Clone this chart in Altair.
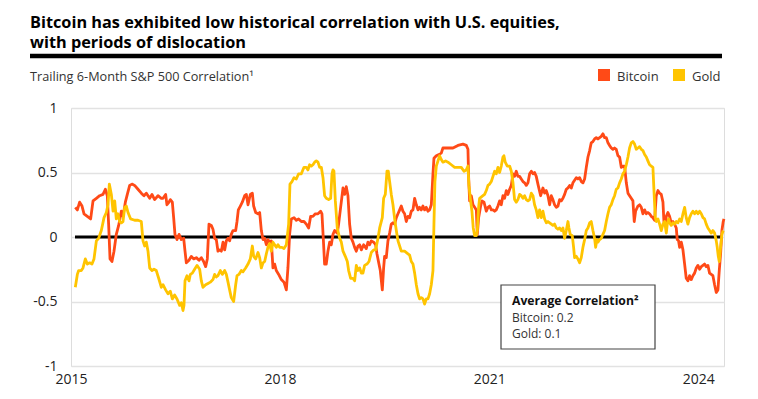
import altair as alt
import pandas as pd

# ---------------- data ----------------
btc_year = [
    2015.062, 2015.091, 2015.124, 2015.158, 2015.187, 2015.234, 2015.282, 2015.316, 2015.364, 2015.411,
    2015.459, 2015.493, 2015.521, 2015.540, 2015.560, 2015.588, 2015.617, 2015.650, 2015.684, 2015.722,
    2015.746, 2015.780, 2015.808, 2015.842, 2015.875, 2015.913, 2015.961, 2016.009, 2016.047, 2016.081,
    2016.129, 2016.162, 2016.200, 2016.248, 2016.296,
    2016.320, 2016.358, 2016.377, 2016.406, 2016.425, 2016.454, 2016.473, 2016.492, 2016.521, 2016.550,
    2016.583, 2016.617, 2016.636, 2016.655, 2016.693, 2016.727, 2016.760, 2016.798, 2016.837, 2016.870,
    2016.903, 2016.932, 2016.956, 2016.980, 2017.013, 2017.037, 2017.061, 2017.085, 2017.109, 2017.133,
    2017.157, 2017.181, 2017.205, 2017.229, 2017.253, 2017.276, 2017.300, 2017.324, 2017.363, 2017.382,
    2017.401, 2017.430, 2017.458, 2017.492, 2017.516, 2017.540, 2017.573, 2017.602, 2017.621, 2017.650,
    2017.683, 2017.707, 2017.731, 2017.755, 2017.779, 2017.803, 2017.826, 2017.850, 2017.874, 2017.898,
    2017.922, 2017.946, 2017.980, 2018.018, 2018.056, 2018.090, 2018.113, 2018.137, 2018.161, 2018.200,
    2018.233, 2018.266, 2018.305, 2018.343, 2018.376, 2018.410, 2018.439, 2018.472, 2018.506, 2018.544,
    2018.582, 2018.601, 2018.620, 2018.639, 2018.663, 2018.687, 2018.711, 2018.735, 2018.759, 2018.783,
    2018.821, 2018.840, 2018.869, 2018.903, 2018.926, 2018.950, 2018.974, 2018.998, 2019.022,
    2019.046, 2019.070, 2019.094, 2019.118, 2019.142, 2019.166, 2019.199, 2019.237, 2019.261, 2019.285,
    2019.309, 2019.343, 2019.371, 2019.390, 2019.419, 2019.438, 2019.467, 2019.486, 2019.500, 2019.524,
    2019.548, 2019.572, 2019.596, 2019.620, 2019.644, 2019.668, 2019.692, 2019.716, 2019.739, 2019.763,
    2019.787, 2019.811, 2019.835, 2019.859, 2019.883, 2019.907, 2019.931, 2019.955, 2019.979, 2020.002,
    2020.026, 2020.050, 2020.074, 2020.098, 2020.122, 2020.146, 2020.170, 2020.194, 2020.208, 2020.242,
    2020.280, 2020.313, 2020.337, 2020.375,
    2020.409, 2020.481, 2020.552, 2020.624, 2020.672, 2020.696, 2020.706, 2020.720, 2020.744, 2020.768,
    2020.792, 2020.816, 2020.830, 2020.849, 2020.878, 2020.897, 2020.926, 2020.959, 2020.983, 2021.007,
    2021.031, 2021.055, 2021.079, 2021.102, 2021.126, 2021.150, 2021.174, 2021.198, 2021.222, 2021.246,
    2021.270, 2021.294, 2021.318, 2021.342, 2021.365, 2021.389, 2021.413, 2021.437, 2021.461, 2021.485,
    2021.509, 2021.533, 2021.557, 2021.581, 2021.605, 2021.629, 2021.652, 2021.676, 2021.700, 2021.739,
    2021.772, 2021.796, 2021.820, 2021.844, 2021.868, 2021.892, 2021.915, 2021.939, 2021.963, 2021.987,
    2022.011, 2022.035, 2022.059, 2022.083, 2022.107, 2022.131, 2022.155, 2022.179, 2022.202, 2022.226,
    2022.250, 2022.274, 2022.298, 2022.322, 2022.346, 2022.370, 2022.394, 2022.418, 2022.442, 2022.465,
    2022.489, 2022.513, 2022.537, 2022.561, 2022.585, 2022.609, 2022.633, 2022.657, 2022.681, 2022.705,
    2022.728, 2022.752, 2022.776, 2022.800, 2022.824, 2022.848, 2022.872, 2022.896, 2022.920, 2022.944,
    2022.968, 2022.992, 2023.015, 2023.039, 2023.063, 2023.082, 2023.101,
    2023.135, 2023.159, 2023.183, 2023.207, 2023.231, 2023.255, 2023.278, 2023.302, 2023.326, 2023.350,
    2023.374, 2023.398, 2023.422, 2023.446, 2023.470, 2023.494, 2023.508, 2023.527, 2023.542, 2023.565,
    2023.589, 2023.613, 2023.637, 2023.661, 2023.685, 2023.699, 2023.718, 2023.733, 2023.757, 2023.781,
    2023.805, 2023.828, 2023.852, 2023.876, 2023.900, 2023.924, 2023.948, 2023.972, 2023.996, 2024.020,
    2024.044, 2024.068, 2024.091, 2024.115, 2024.139, 2024.163, 2024.187, 2024.211, 2024.235, 2024.259,
    2024.283, 2024.302, 2024.321, 2024.340, 2024.359, 2024.369,
]
btc_corr = [
    0.23, 0.21, 0.27, 0.24, 0.18, 0.16, 0.14, 0.28, 0.30, 0.32,
    0.33, 0.37, 0.32, 0.10, -0.17, -0.19, -0.11, 0.02, 0.09, 0.20,
    0.16, 0.27, 0.33, 0.40, 0.41, 0.40, 0.37, 0.34, 0.32, 0.34,
    0.30, 0.33, 0.29, 0.32, 0.30,
    0.30, 0.33, 0.25, 0.27, 0.29, 0.27, 0.15, 0.02, -0.02, 0.02,
    -0.02, -0.01, -0.11, -0.20, -0.18, -0.15, -0.17, -0.16, -0.18, -0.16,
    -0.19, -0.23, -0.17, 0.10, 0.09, 0.06, -0.01, -0.02, -0.11, -0.10,
    -0.11, -0.04, -0.10, -0.03, -0.01, -0.03, 0.02, 0.05, 0.05, 0.12,
    0.21, 0.24, 0.27, 0.32, 0.33, 0.25, 0.33, 0.34, 0.24, 0.19,
    0.18, 0.19, 0.05, -0.02, -0.01, -0.06, -0.02, -0.04, -0.03, -0.24,
    -0.21, -0.26, -0.29, -0.33, -0.35, -0.41, -0.24, 0.02, 0.14, 0.15,
    0.13, 0.14, 0.12, 0.12, 0.10, 0.07, 0.16, 0.16, 0.18, 0.18,
    0.20, 0.18, -0.01, -0.21, -0.21, -0.11, -0.04, -0.06, 0.02, 0.05,
    0.03, 0.10, 0.23, 0.38, 0.33, 0.39, 0.32, 0.10, -0.01,
    -0.04, -0.08, -0.11, -0.07, -0.06, -0.10, -0.06, -0.09, -0.04, -0.06,
    -0.03, -0.04, -0.06, -0.13, -0.21, -0.26, -0.41, -0.24, -0.15, -0.16,
    -0.03, 0.03, 0.10, 0.11, 0.10, 0.15, 0.18, 0.21, 0.24, 0.20,
    0.18, 0.12, 0.16, 0.15, 0.20, 0.21, 0.30, 0.25, 0.21, 0.23,
    0.21, 0.24, 0.21, 0.23, 0.20, 0.21, 0.25, 0.49, 0.61, 0.63,
    0.64, 0.65, 0.69, 0.69,
    0.69, 0.69, 0.71, 0.72, 0.71, 0.68, 0.46, 0.28, 0.32, 0.25,
    0.23, 0.21, 0.02, 0.15, 0.24, 0.28, 0.27, 0.20, 0.23, 0.24,
    0.21, 0.21, 0.20, 0.21, 0.24, 0.28, 0.25, 0.32, 0.30, 0.36,
    0.33, 0.37, 0.40, 0.49, 0.47, 0.51, 0.47, 0.47, 0.45, 0.43,
    0.42, 0.40, 0.42, 0.49, 0.51, 0.49, 0.50, 0.47, 0.41, 0.32,
    0.38, 0.34, 0.36, 0.32, 0.25, 0.32, 0.29, 0.25, 0.23, 0.24,
    0.29, 0.28, 0.30, 0.33, 0.37, 0.38, 0.40, 0.38, 0.42, 0.44,
    0.46, 0.45, 0.46, 0.43, 0.42, 0.45, 0.54, 0.62, 0.67, 0.73,
    0.74, 0.76, 0.77, 0.76, 0.77, 0.78, 0.80, 0.77, 0.77, 0.73,
    0.71, 0.69, 0.68, 0.69, 0.68, 0.63, 0.62, 0.54, 0.55, 0.55,
    0.42, 0.34, 0.32, 0.30, 0.28, 0.12, 0.20,
    0.24, 0.25, 0.23, 0.18, 0.21, 0.18, 0.19, 0.18, 0.16, 0.15,
    0.13, 0.32, 0.36, 0.34, 0.33, 0.27, 0.12, 0.10, 0.16, 0.19,
    0.16, 0.11, 0.12, 0.10, 0.07, -0.02, -0.03, -0.08, -0.04, -0.10,
    -0.21, -0.32, -0.34, -0.30, -0.33, -0.30, -0.28, -0.24, -0.22, -0.25,
    -0.23, -0.22, -0.21, -0.23, -0.22, -0.28, -0.29, -0.30, -0.37, -0.43,
    -0.41, -0.26, -0.13, 0.05, 0.12, 0.14,
]

gold_year = [
    2015.062, 2015.091, 2015.110, 2015.148, 2015.172, 2015.206, 2015.234, 2015.268, 2015.301, 2015.330,
    2015.364, 2015.397, 2015.435, 2015.474, 2015.507, 2015.531, 2015.550, 2015.579, 2015.603, 2015.627,
    2015.650, 2015.674, 2015.698, 2015.722, 2015.746, 2015.770, 2015.794, 2015.818, 2015.856, 2015.913,
    2015.961, 2016.009, 2016.033, 2016.057, 2016.081, 2016.105, 2016.129, 2016.162, 2016.191, 2016.224,
    2016.258, 2016.296,
    2016.320, 2016.358, 2016.392, 2016.425, 2016.454, 2016.487, 2016.521, 2016.559, 2016.583, 2016.607,
    2016.621, 2016.636, 2016.664, 2016.693, 2016.712, 2016.741, 2016.774, 2016.808, 2016.846, 2016.870,
    2016.894, 2016.932, 2016.966, 2016.999, 2017.037, 2017.061, 2017.085, 2017.109, 2017.143, 2017.171,
    2017.205, 2017.229, 2017.253, 2017.276, 2017.300, 2017.334, 2017.363, 2017.382, 2017.410, 2017.444,
    2017.468, 2017.506, 2017.540, 2017.573, 2017.602, 2017.621, 2017.650,
    2017.683, 2017.707, 2017.731, 2017.755, 2017.779, 2017.803, 2017.826, 2017.850, 2017.874, 2017.898,
    2017.922, 2017.946, 2017.970, 2017.994, 2018.027, 2018.056, 2018.090, 2018.123, 2018.142, 2018.171,
    2018.200, 2018.233, 2018.266, 2018.305, 2018.343, 2018.376, 2018.400, 2018.424, 2018.448, 2018.472,
    2018.496, 2018.520, 2018.544, 2018.568, 2018.592, 2018.616, 2018.639, 2018.663, 2018.697, 2018.726,
    2018.745, 2018.759, 2018.773, 2018.793, 2018.821, 2018.855, 2018.879, 2018.903, 2018.936, 2018.965,
    2018.984, 2019.013,
    2019.046, 2019.070, 2019.094, 2019.118, 2019.142, 2019.166, 2019.189, 2019.213, 2019.247, 2019.276,
    2019.309, 2019.343, 2019.371, 2019.405, 2019.429, 2019.467, 2019.486, 2019.510, 2019.534, 2019.553,
    2019.572, 2019.596, 2019.620, 2019.644, 2019.668, 2019.692, 2019.716, 2019.739, 2019.787, 2019.835,
    2019.859, 2019.883, 2019.907, 2019.931, 2019.955, 2019.979, 2020.002, 2020.026, 2020.050, 2020.074,
    2020.098, 2020.122, 2020.146, 2020.170, 2020.194, 2020.208, 2020.222, 2020.242, 2020.266, 2020.289,
    2020.313, 2020.337, 2020.375,
    2020.409, 2020.457, 2020.505, 2020.552, 2020.600, 2020.639, 2020.672, 2020.696, 2020.710, 2020.734,
    2020.753, 2020.772, 2020.792, 2020.816, 2020.830, 2020.849, 2020.863, 2020.911, 2020.935, 2020.959,
    2020.983, 2021.007, 2021.031, 2021.055, 2021.079, 2021.102, 2021.126, 2021.150, 2021.174, 2021.198,
    2021.212, 2021.231, 2021.260, 2021.294, 2021.318, 2021.342, 2021.365, 2021.389, 2021.413, 2021.437,
    2021.461, 2021.485, 2021.509, 2021.533, 2021.557, 2021.581, 2021.605, 2021.629, 2021.652, 2021.676,
    2021.700, 2021.724, 2021.748,
    2021.772, 2021.796, 2021.820, 2021.844, 2021.868, 2021.892, 2021.915, 2021.939, 2021.963, 2021.987,
    2022.011, 2022.035, 2022.059, 2022.083, 2022.107, 2022.131, 2022.145, 2022.164, 2022.193, 2022.212,
    2022.226, 2022.250, 2022.274, 2022.298, 2022.322, 2022.346, 2022.370, 2022.394, 2022.418, 2022.442,
    2022.465, 2022.489, 2022.513, 2022.528, 2022.547, 2022.561, 2022.585, 2022.609, 2022.633, 2022.657,
    2022.681, 2022.705, 2022.728, 2022.752, 2022.776, 2022.800, 2022.824, 2022.848, 2022.872, 2022.896,
    2022.920, 2022.944, 2022.968, 2022.992, 2023.015, 2023.039, 2023.063, 2023.087, 2023.111,
    2023.135, 2023.159, 2023.183, 2023.207, 2023.231, 2023.255, 2023.278, 2023.302, 2023.326, 2023.350,
    2023.365, 2023.384, 2023.398, 2023.422, 2023.446, 2023.470, 2023.494, 2023.518, 2023.542, 2023.556,
    2023.575, 2023.589, 2023.613, 2023.637, 2023.661, 2023.685, 2023.709, 2023.733, 2023.757, 2023.781,
    2023.805, 2023.828, 2023.852, 2023.876, 2023.900, 2023.924, 2023.948, 2023.972, 2023.996, 2024.020,
    2024.044, 2024.068, 2024.091, 2024.115, 2024.139, 2024.163, 2024.187, 2024.211, 2024.235, 2024.259,
    2024.273, 2024.288, 2024.302, 2024.321, 2024.340, 2024.359,
]
gold_corr = [
    -0.39, -0.29, -0.26, -0.26, -0.24, -0.17, -0.21, -0.20, -0.21, -0.17,
    -0.03, -0.01, 0.05, 0.15, 0.19, 0.25, 0.41, 0.33, 0.20, 0.28,
    0.14, 0.18, 0.12, 0.11, 0.12, 0.23, 0.24, 0.19, 0.14, 0.13,
    0.13, 0.12, -0.03, -0.07, -0.04, -0.11, -0.24, -0.26, -0.25, -0.26,
    -0.32, -0.39,
    -0.37, -0.41, -0.44, -0.42, -0.48, -0.45, -0.48, -0.53, -0.51, -0.57,
    -0.53, -0.34, -0.30, -0.34, -0.29, -0.28, -0.25, -0.22, -0.25, -0.34,
    -0.39, -0.37, -0.36, -0.35, -0.33, -0.29, -0.31, -0.30, -0.26, -0.29,
    -0.26, -0.29, -0.35, -0.41, -0.47, -0.50, -0.37, -0.30, -0.29, -0.26,
    -0.27, -0.24, -0.21, -0.17, -0.07, -0.15, -0.17,
    -0.12, -0.16, -0.24, -0.20, -0.19, -0.13, -0.08, -0.05, -0.11, -0.04,
    -0.06, -0.08, -0.06, -0.08, -0.08, -0.09, -0.06, 0.10, 0.41, 0.43,
    0.46, 0.45, 0.49, 0.49, 0.54, 0.54, 0.52, 0.56, 0.55, 0.56,
    0.58, 0.59, 0.58, 0.54, 0.54, 0.46, 0.32, 0.30, 0.29, 0.30,
    0.49, 0.52, 0.51, 0.28, 0.07, -0.01, -0.04, -0.11, -0.15, -0.19,
    -0.26, -0.32,
    -0.32, -0.34, -0.22, -0.26, -0.24, -0.28, -0.28, -0.22, -0.21, -0.19,
    -0.12, -0.10, -0.10, -0.01, 0.07, 0.15, 0.30, 0.33, 0.51, 0.51,
    0.43, 0.33, 0.25, 0.14, 0.05, -0.03, -0.07, -0.11, -0.11, -0.13,
    -0.14, -0.19, -0.21, -0.28, -0.37, -0.44, -0.48, -0.47, -0.48, -0.52,
    -0.48, -0.48, -0.44, -0.37, -0.26, 0.10, 0.43, 0.55, 0.59, 0.63,
    0.60, 0.58, 0.59,
    0.58, 0.56, 0.54, 0.54, 0.54, 0.51, 0.52, 0.55, 0.40, 0.28,
    0.20, 0.07, 0.01, 0.01, 0.05, 0.23, 0.30, 0.32, 0.33, 0.36,
    0.40, 0.41, 0.43, 0.47, 0.51, 0.49, 0.54, 0.50, 0.55, 0.62,
    0.63, 0.58, 0.55, 0.55, 0.51, 0.42, 0.29, 0.27, 0.29, 0.33,
    0.32, 0.30, 0.32, 0.29, 0.28, 0.29, 0.34, 0.32, 0.25, 0.21,
    0.15, 0.21, 0.15,
    0.20, 0.14, 0.11, 0.12, 0.11, 0.10, 0.09, 0.10, 0.07, 0.06,
    0.07, 0.05, 0.07, -0.01, 0.05, 0.12, 0.07, 0.02, 0.01, -0.08,
    -0.16, -0.15, -0.17, -0.20, -0.16, -0.08, -0.02, 0.05, 0.07, 0.11,
    0.12, 0.05, -0.01, -0.08, -0.02, -0.04, -0.02, -0.01, 0.02, 0.05,
    0.12, 0.18, 0.23, 0.25, 0.29, 0.32, 0.37, 0.38, 0.42, 0.45,
    0.49, 0.51, 0.56, 0.62, 0.69, 0.73, 0.74, 0.72, 0.68,
    0.69, 0.70, 0.68, 0.67, 0.64, 0.62, 0.59, 0.56, 0.55, 0.54,
    0.36, 0.15, 0.12, 0.14, 0.10, 0.05, 0.10, 0.12, 0.03, 0.10,
    0.14, 0.11, 0.09, 0.11, 0.10, 0.12, 0.11, 0.14, 0.12, 0.18,
    0.23, 0.15, 0.10, 0.15, 0.18, 0.20, 0.18, 0.20, 0.18, 0.20,
    0.18, 0.15, 0.14, 0.10, 0.07, 0.05, 0.03, 0.05, 0.03, -0.03,
    -0.08, -0.15, -0.19, -0.08, 0.02, 0.05,
]

series_names = ["Bitcoin", "Gold"]
series_colors = ["#ff4a17", "#ffc400"]
x_ticks = [2015, 2018, 2021, 2024]
y_ticks = [-1, -0.5, 0, 0.5, 1]

title_text = ("Bitcoin has exhibited low historical correlation with U.S. equities,\n"
              "with periods of dislocation")
subtitle = "Trailing 6-Month S&P 500 Correlation\u00b9"
box_title = "Average Correlation\u00b2"
box_body = "Bitcoin: 0.2\nGold: 0.1"

FONT = "Open Sans"
W, H = 653, 258

df = pd.concat([
    pd.DataFrame({"year": btc_year, "corr": btc_corr, "series": "Bitcoin"}),
    pd.DataFrame({"year": gold_year, "corr": gold_corr, "series": "Gold"}),
], ignore_index=True)

xscale = alt.Scale(domain=[2015, 2024.37], nice=False, zero=False)
yscale = alt.Scale(domain=[-1, 1], nice=False)
cscale = alt.Scale(domain=series_names, range=series_colors)

xaxis = alt.Axis(values=x_ticks, format="d", title=None, grid=False, domain=False,
                 ticks=False, labelFontSize=14, labelPadding=6, labelColor="#222",
                 labelFont=FONT, labelFlush=False)
yaxis = alt.Axis(values=y_ticks, labelExpr="datum.value", title=None, domain=False,
                 ticks=False, grid=True, gridColor="#e2e2e2", gridWidth=1.5,
                 labelPadding=14, labelFontSize=14, labelColor="#222", labelFont=FONT)


def series_layer(name):
    return alt.Chart(df).transform_filter(alt.datum.series == name).mark_line(
        strokeWidth=2.8, strokeJoin="round"
    ).encode(
        x=alt.X("year:Q", scale=xscale, axis=xaxis),
        y=alt.Y("corr:Q", scale=yscale, axis=yaxis),
        color=alt.Color("series:N", scale=cscale, legend=None),
    )


zero_rule = alt.Chart(alt.Data(values=[{"z": 0}])).mark_rule(
    color="black", strokeWidth=3
).encode(y=alt.datum(0), x=alt.value(4), x2=alt.value(652))


def text_mark(txt, x, y, size, weight="normal", color="#222", baseline="alphabetic",
              line_height=None):
    kw = dict(align="left", baseline=baseline, font=FONT, fontSize=size,
              fontWeight=weight, color=color, lineBreak="\n")
    if line_height:
        kw["lineHeight"] = line_height
    return alt.Chart(alt.Data(values=[{"t": txt}])).mark_text(**kw).encode(
        text="t:N", x=alt.value(x), y=alt.value(y))


def rect_mark(x, x2, y, y2, fill, stroke=None, sw=0):
    kw = dict(fill=fill, strokeWidth=sw)
    if stroke:
        kw["stroke"] = stroke
    return alt.Chart(alt.Data(values=[{"r": 1}])).mark_rect(**kw).encode(
        x=alt.value(x), x2=alt.value(x2), y=alt.value(y), y2=alt.value(y2))


header_rule = alt.Chart(alt.Data(values=[{"r": 1}])).mark_rule(
    color="black", strokeWidth=4.5
).encode(x=alt.value(-41), x2=alt.value(651), y=alt.value(-52))

layers = [
    zero_rule,
    series_layer("Bitcoin"),
    series_layer("Gold"),
    text_mark(title_text, -41, -80, 16.3, "bold", "#000", line_height=20),
    header_rule,
    text_mark(subtitle, -41, -27, 12.7, color="#333"),
    rect_mark(527, 539, -39, -27, series_colors[0]),
    text_mark(series_names[0], 546, -27, 13, color="#333"),
    rect_mark(602, 614, -39, -27, series_colors[1]),
    text_mark(series_names[1], 621, -27, 13, color="#333"),
    rect_mark(430, 584, 177, 241, "white", "#444", 1.2),
    text_mark(box_title, 441, 197, 12.2, "bold", "#111"),
    text_mark(box_body, 441, 214, 12, "normal", "#333", line_height=16),
]

chart = alt.layer(*layers).properties(
    width=W, height=H,
    autosize=alt.AutoSizeParams(type="none"),
    padding={"left": 63, "top": 100, "right": 24, "bottom": 21},
).configure_view(stroke=None).configure(background="white")

chart.save("out.html", embed_options={"renderer": "svg", "actions": False})
